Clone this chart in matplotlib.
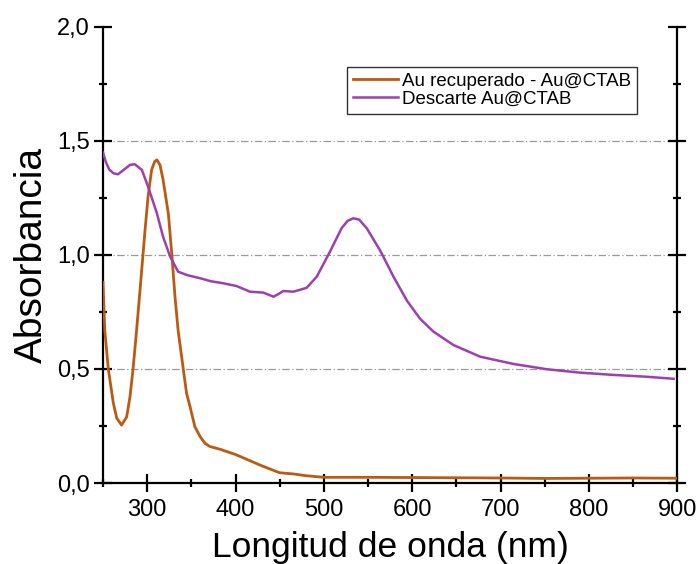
import matplotlib
matplotlib.use("Agg")
import matplotlib.pyplot as plt
from matplotlib.ticker import MultipleLocator, FuncFormatter

plt.rcParams['font.family'] = ['Liberation Sans', 'DejaVu Sans']

# Au recuperado - Au@CTAB
wl_rec = [250, 252, 256, 261.7, 265.5, 271, 276.8, 280.6, 284, 288, 292, 297.6, 301, 305, 308.5, 311, 314.5,
          318, 324, 327.8, 331.5, 335, 341, 344.6, 348.5, 354, 360, 365.5, 371, 382.5, 400, 415, 430, 440,
          450, 465, 480, 500, 550, 600, 650, 700, 750, 800, 850, 900]
abs_rec = [0.88, 0.67, 0.50, 0.35, 0.285, 0.254, 0.29, 0.38, 0.50, 0.67, 0.85, 1.11, 1.256, 1.373, 1.41,
           1.417, 1.395, 1.33, 1.18, 1.007, 0.817, 0.67, 0.496, 0.393, 0.335, 0.247, 0.203, 0.174, 0.160,
           0.148, 0.125, 0.10, 0.075, 0.06, 0.045, 0.04, 0.032, 0.025, 0.025, 0.024, 0.023, 0.022, 0.020,
           0.021, 0.022, 0.021]

# Descarte Au@CTAB
wl_desc = [250, 253, 257, 262, 267, 274, 280.5, 286, 294, 301, 311, 318, 326, 335, 345, 360, 372, 386, 401,
           416.5, 431.5, 443, 450, 454, 465.5, 480.5, 492, 507, 520, 527, 533.5, 540, 548.6, 563.7, 578.8,
           594, 609, 624, 646.7, 677, 714.7, 752.4, 790, 828, 865.7, 896]
abs_desc = [1.449, 1.41, 1.375, 1.358, 1.354, 1.375, 1.395, 1.398, 1.373, 1.30, 1.183, 1.08, 0.993, 0.927,
            0.912, 0.898, 0.885, 0.876, 0.864, 0.839, 0.835, 0.817, 0.832, 0.842, 0.839, 0.856, 0.905, 1.015,
            1.117, 1.15, 1.161, 1.155, 1.117, 1.02, 0.905, 0.80, 0.72, 0.664, 0.605, 0.554, 0.522, 0.499,
            0.484, 0.474, 0.466, 0.457]

label_rec = 'Au recuperado - Au@CTAB'
label_desc = 'Descarte Au@CTAB'

fig = plt.figure(figsize=(6.96, 5.64), dpi=100)
ax = fig.add_axes([0.148, 0.1436, 0.825, 0.8086])

ax.plot(wl_rec, abs_rec, color='#bc5a12', lw=2.0, label=label_rec, zorder=3)
ax.plot(wl_desc, abs_desc, color='#9b40ae', lw=1.8, label=label_desc, zorder=3)

ax.set_xlim(250, 900)
ax.set_ylim(0, 2.0)
ax.xaxis.set_major_locator(MultipleLocator(100))
ax.xaxis.set_minor_locator(MultipleLocator(50))
ax.yaxis.set_major_locator(MultipleLocator(0.5))
ax.yaxis.set_minor_locator(MultipleLocator(0.25))
ax.yaxis.set_major_formatter(FuncFormatter(lambda v, p: f'{v:.1f}'.replace('.', ',')))

for y in [0.5, 1.0, 1.5]:
    ax.axhline(y, color='#9a9a9a', lw=0.9, ls=(0, (6, 2, 1, 2)), zorder=1)

ax.spines['top'].set_visible(False)
for s in ['left', 'right', 'bottom']:
    ax.spines[s].set_linewidth(1.6)

ax.tick_params(axis='both', which='major', direction='inout', length=13, width=1.6, labelsize=17)
ax.tick_params(axis='both', which='minor', direction='inout', length=6, width=1.6)
ax.tick_params(axis='y', which='both', right=True)
ax.tick_params(axis='x', which='major', pad=5)
ax.tick_params(axis='y', which='major', pad=3)

ax.set_xlabel('Longitud de onda (nm)', fontsize=25.5, labelpad=7)
ax.set_ylabel('Absorbancia', fontsize=28, labelpad=5)

leg = ax.legend(loc='upper right', bbox_to_anchor=(0.930, 0.912), fontsize=13.5, frameon=True,
                fancybox=False, edgecolor='black', handlelength=2.4, handletextpad=0.25,
                borderpad=0.3, labelspacing=0.05, borderaxespad=0)
leg.get_frame().set_linewidth(1.0)

fig.savefig('out.png', dpi=100)
